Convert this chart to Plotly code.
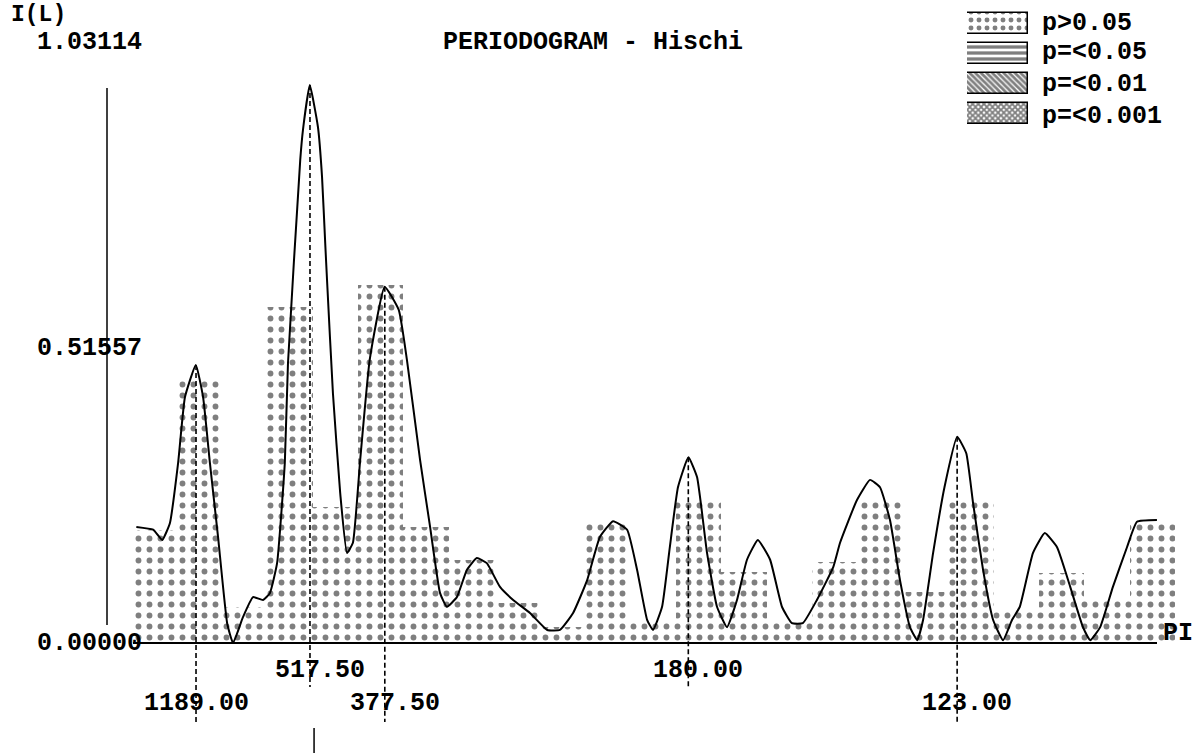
import plotly.graph_objects as go

# ---------------- data ----------------
N_SERIES = 2300  # harmonic index = N / period

bar_index = list(range(1, 24))
bar_values = [0.200, 0.464, 0.064, 0.593, 0.240, 0.632, 0.205, 0.147, 0.071, 0.028,
              0.214, 0.037, 0.256, 0.125, 0.037, 0.143, 0.256, 0.090, 0.256, 0.055,
              0.124, 0.079, 0.217]

curve_k = [0.62, 0.99, 1.19, 1.36, 1.54, 1.69, 1.93, 2.09, 2.24, 2.42,
           2.62, 2.75, 2.97, 3.19, 3.41, 3.56, 3.72, 3.89, 3.96, 4.23,
           4.29, 4.44, 4.62, 4.71, 4.78, 4.82, 4.95, 5.11, 5.26, 5.39,
           5.55, 5.76, 6.09, 6.40, 6.58, 6.87, 7.09, 7.31, 7.46, 7.68,
           7.90, 8.12, 8.34, 8.63, 8.92, 9.29, 9.67, 9.95, 10.24, 10.55,
           10.83, 11.12, 11.43, 11.65, 11.87, 12.00, 12.20, 12.37, 12.55, 12.78,
           12.97, 13.19, 13.41, 13.63, 13.85, 14.07, 14.31, 14.58, 14.84, 15.06,
           15.30, 15.61, 15.97, 16.12, 16.49, 16.78, 17.00, 17.22, 17.44, 17.66,
           17.82, 17.95, 18.17, 18.42, 18.70, 18.90, 19.05, 19.27, 19.49, 19.71,
           19.91, 20.08, 20.37, 20.63, 20.90, 21.19, 21.47, 21.63, 21.85, 22.13,
           22.44, 22.66, 23.10]
curve_v = [0.205, 0.200, 0.182, 0.212, 0.318, 0.434, 0.491, 0.434, 0.318, 0.187,
           0.035, 0.000, 0.046, 0.081, 0.076, 0.088, 0.141, 0.318, 0.494, 0.853,
           0.906, 0.985, 0.911, 0.823, 0.706, 0.641, 0.441, 0.265, 0.159, 0.177,
           0.323, 0.500, 0.629, 0.588, 0.500, 0.323, 0.205, 0.088, 0.064, 0.081,
           0.129, 0.150, 0.141, 0.099, 0.076, 0.053, 0.023, 0.023, 0.053, 0.111,
           0.187, 0.215, 0.200, 0.129, 0.041, 0.023, 0.064, 0.169, 0.275, 0.328,
           0.293, 0.159, 0.064, 0.028, 0.076, 0.147, 0.182, 0.147, 0.064, 0.035,
           0.035, 0.076, 0.134, 0.177, 0.252, 0.288, 0.275, 0.217, 0.111, 0.028,
           0.005, 0.041, 0.159, 0.275, 0.364, 0.335, 0.247, 0.129, 0.041, 0.005,
           0.041, 0.064, 0.159, 0.194, 0.169, 0.099, 0.028, 0.005, 0.028, 0.099,
           0.169, 0.214, 0.217]

peak_periods = [1189.00, 517.50, 377.50, 180.00, 123.00]
peak_values = [0.491, 0.985, 0.629, 0.328, 0.364]
peak_row = ["low", "high", "low", "high", "low"]

y_tick_values = [1.03114, 0.51557, 0.0]
legend_labels = ["p>0.05", "p=<0.05", "p=<0.01", "p=<0.001"]
title_text = "PERIODOGRAM - Hischi"
y_title = "I(L)"
x_title = "PI"

# ---------------- layout geometry ----------------
W, H = 1196, 754
L, R, T, B = 100, 6, 5, 0
X0PX = 108.2         # pixel column of harmonic index 0
PXU = 45.4           # pixels per harmonic index
YU = 566.4           # pixels per unit of I(L)
BASE = 643           # pixel row of zero
x_range = [(L - X0PX) / PXU, (W - R - X0PX) / PXU]
y_range = [-(H - B - BASE) / YU, (BASE - T) / YU]


def xp(px):  # pixel -> paper x
    return (px - L) / (W - L - R)


def yp(py):  # pixel -> paper y
    return (H - B - py) / (H - B - T)


def xv(px):  # pixel -> data x
    return (px - X0PX) / PXU


def yv(py):  # pixel -> data y
    return (BASE - py) / YU


FONT = "Liberation Mono"
FS = 25

fig = go.Figure()

fig.add_trace(go.Bar(
    x=bar_index, y=bar_values, width=1.0,
    marker=dict(color="white", line=dict(width=0),
                pattern=dict(shape=".", fgcolor="black", bgcolor="white",
                             size=11, solidity=0.22)),
    hoverinfo="skip"))

fig.add_trace(go.Scatter(
    x=curve_k, y=curve_v, mode="lines",
    line=dict(color="black", width=2, shape="spline", smoothing=0.4),
    hoverinfo="skip"))

annotations = []
for p, v, row in zip(peak_periods, peak_values, peak_row):
    k = N_SERIES / p
    end_px = 687 if row == "high" else 722
    lab_px = 670 if row == "high" else 703
    fig.add_trace(go.Scatter(
        x=[k, k], y=[v, yv(end_px)], mode="lines",
        line=dict(color="black", width=1.6, dash="5px,3px"),
        hoverinfo="skip"))
    txt = f"{p:.2f}"
    annotations.append(dict(
        x=k, y=yp(lab_px), xref="x", yref="paper", text=f"<b>{txt}</b>",
        showarrow=False, xanchor="center", yanchor="middle",
        xshift=(0 if len(txt) % 2 else 10),
        font=dict(family=FONT, size=FS, color="black")))

# stray tick segment below the 517.50 marker
k517 = N_SERIES / peak_periods[1]
fig.add_trace(go.Scatter(
    x=[k517 + 0.09, k517 + 0.09], y=[yv(728), yv(753)], mode="lines",
    line=dict(color="black", width=1.5), hoverinfo="skip"))

# legend swatches on their own small axes
legend_patterns = [
    dict(shape=".", fgcolor="black", bgcolor="white", size=8, solidity=0.3),
    dict(shape="-", fgcolor="black", bgcolor="white", size=6, solidity=0.55),
    dict(shape="\\", fgcolor="black", bgcolor="white", size=4, solidity=0.7),
    dict(shape="x", fgcolor="black", bgcolor="white", size=4, solidity=0.7),
]
for i, (lab, pat) in enumerate(zip(legend_labels, legend_patterns)):
    fig.add_trace(go.Bar(
        x=[1], y=[i + 0.5], orientation="h", width=0.7, base=0,
        marker=dict(color="white", line=dict(color="black", width=1.5), pattern=pat),
        xaxis="x2", yaxis="y2", hoverinfo="skip"))
    annotations.append(dict(
        x=xp(1040), y=yp([24, 53, 85, 116][i]), xref="paper", yref="paper",
        text=f"<b>{lab}</b>", showarrow=False, xanchor="left", yanchor="middle",
        font=dict(family=FONT, size=FS, color="black")))

# y labels
for val, py in zip(y_tick_values, [42, 348, 643]):
    annotations.append(dict(
        x=xp(35), y=yp(py), xref="paper", yref="paper", text=f"<b>{val:.5f}</b>",
        showarrow=False, xanchor="left", yanchor="middle",
        font=dict(family=FONT, size=FS, color="black")))

annotations.append(dict(x=xp(9), y=yp(0), xref="paper", yref="paper",
                        text=f"<b>{y_title}</b>", showarrow=False, xanchor="left",
                        yanchor="top", font=dict(family=FONT, size=23, color="black")))
annotations.append(dict(x=xp(441), y=yp(42), xref="paper", yref="paper",
                        text=f"<b>{title_text}</b>", showarrow=False, xanchor="left",
                        yanchor="middle", font=dict(family=FONT, size=FS, color="black")))
annotations.append(dict(x=xp(1161), y=yp(633), xref="paper", yref="paper",
                        text=f"<b>{x_title}</b>", showarrow=False, xanchor="left",
                        yanchor="middle", font=dict(family=FONT, size=FS, color="black")))

shapes = [
    # baseline
    dict(type="line", xref="x", yref="y", x0=xv(133), x1=xv(1157),
         y0=0, y1=0, line=dict(color="black", width=2)),
    # vertical axis line
    dict(type="line", xref="x", yref="y", x0=xv(107), x1=xv(107),
         y0=yv(625), y1=yv(88), line=dict(color="black", width=1.5)),
]

fig.update_layout(
    width=W, height=H, margin=dict(l=L, r=R, t=T, b=B),
    paper_bgcolor="white", plot_bgcolor="rgba(0,0,0,0)",
    showlegend=False, bargap=0, barmode="overlay",
    xaxis=dict(range=x_range, visible=False, fixedrange=True),
    yaxis=dict(range=y_range, visible=False, fixedrange=True),
    xaxis2=dict(domain=[xp(967), xp(1028)], range=[0, 1], visible=False,
                anchor="y2", fixedrange=True),
    yaxis2=dict(domain=[yp(128), yp(8)], range=[4, 0], visible=False,
                anchor="x2", fixedrange=True),
    annotations=annotations, shapes=shapes,
)

fig.write_html("out.html", config={"displayModeBar": False},
               post_script="document.body.style.margin='0';")
